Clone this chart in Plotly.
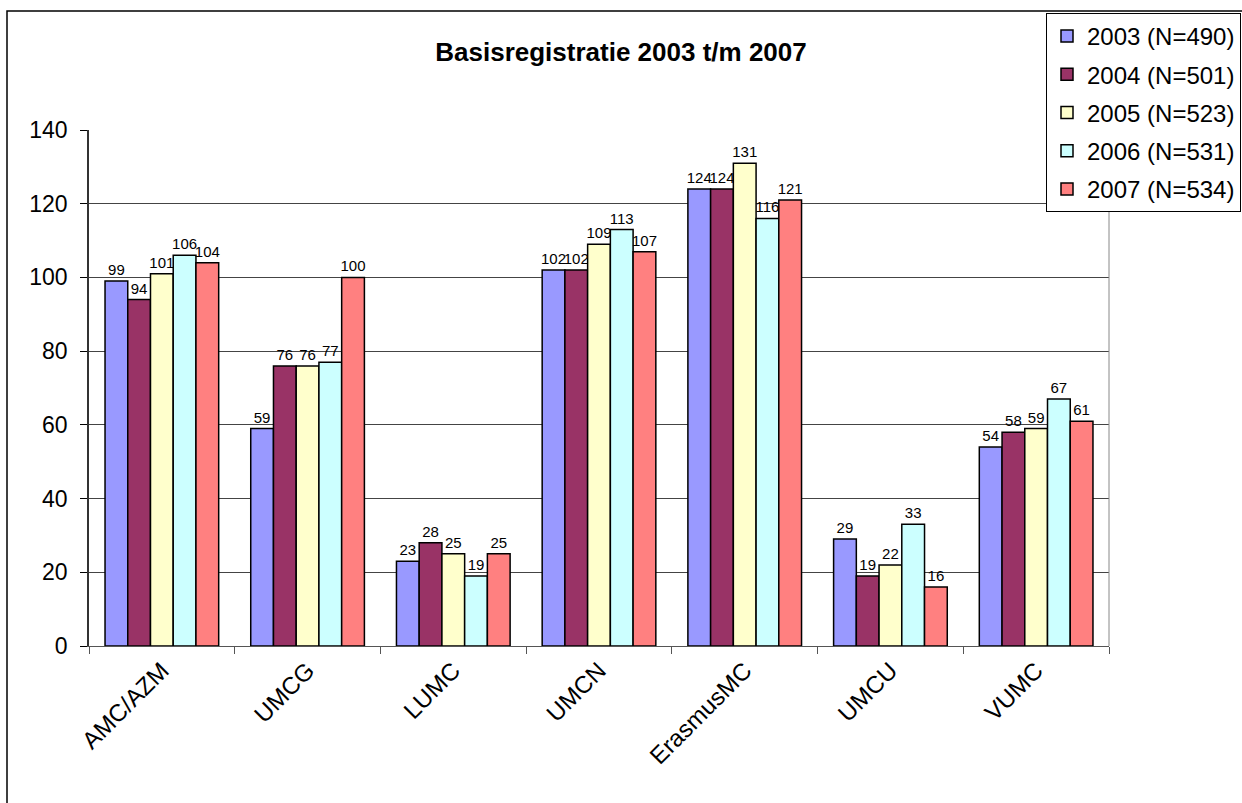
import plotly.graph_objects as go

categories = ["AMC/AZM", "UMCG", "LUMC", "UMCN", "ErasmusMC", "UMCU", "VUMC"]
series_names = ["2003 (N=490)", "2004 (N=501)", "2005 (N=523)", "2006 (N=531)", "2007 (N=534)"]
v2003 = [99, 59, 23, 102, 124, 29, 54]
v2004 = [94, 76, 28, 102, 124, 19, 58]
v2005 = [101, 76, 25, 109, 131, 22, 59]
v2006 = [106, 77, 19, 113, 116, 33, 67]
v2007 = [104, 100, 25, 107, 121, 16, 61]
colors = ["#9999FF", "#993366", "#FFFFCC", "#CCFFFF", "#FF8080"]
y_ticks = [0, 20, 40, 60, 80, 100, 120, 140]

FONT = "Liberation Sans, Arial, sans-serif"
W, H = 1242, 803
L, R, T, B = 89, 1, 13, 157
pw = W - L - R          # paper width
ph = H - T - B          # paper height
PLOT_RIGHT, PLOT_TOP = 1109, 130

def px_x(x):
    return (x - L) / pw

def px_y(y):
    return (H - B - y) / ph

fig = go.Figure()
for i, (name, vals) in enumerate(zip(series_names, [v2003, v2004, v2005, v2006, v2007])):
    fig.add_trace(go.Bar(
        x=categories, y=vals, name=name,
        marker=dict(color=colors[i], line=dict(color="black", width=1.5)),
        text=vals, textposition="outside", constraintext="none",
        textfont=dict(family=FONT, size=15, color="black"),
        cliponaxis=False, legendgroup=name,
    ))

fig.update_layout(
    width=W, height=H,
    margin=dict(l=L, r=R, t=T, b=B, pad=0),
    paper_bgcolor="white", plot_bgcolor="white",
    barmode="group", bargap=0.22, bargroupgap=0,
    font=dict(family=FONT, color="black"),
    title=dict(text="<b>Basisregistratie 2003 t/m 2007</b>", x=0.5, xanchor="center",
               y=1 - 52 / H, yanchor="middle", xref="container", yref="container",
               font=dict(family=FONT, size=26, color="black")),
    legend=dict(x=1, y=1, xanchor="right", yanchor="top",
                bgcolor="white", bordercolor="black", borderwidth=1,
                font=dict(family=FONT, size=24, color="black"),
                traceorder="grouped", tracegroupgap=4, itemwidth=30),
    showlegend=True,
)
fig.update_xaxes(
    domain=[0, px_x(PLOT_RIGHT)],
    type="category", tickson="boundaries", ticks="outside", ticklen=7,
    tickcolor="#555555", tickwidth=1, showline=True, linecolor="#555555", linewidth=1,
    tickangle=-45, tickfont=dict(family=FONT, size=24, color="black"), showgrid=False,
)
fig.update_yaxes(
    domain=[0, px_y(PLOT_TOP)],
    range=[0, 140], tickvals=y_ticks, ticks="outside", ticklen=7, tickcolor="black",
    showline=True, linecolor="#333333", linewidth=1.5,
    showgrid=True, gridcolor="#444444", gridwidth=1, zeroline=False,
    tickfont=dict(family=FONT, size=23, color="black"), ticklabelstandoff=8,
)
# plot-area right edge and outer chart frame
fig.add_shape(type="line", xref="x domain", yref="y domain", x0=1, x1=1, y0=0, y1=1,
              line=dict(color="#888888", width=1))
fig.add_shape(type="rect", xref="paper", yref="paper",
              x0=px_x(7), x1=px_x(1260), y0=px_y(820), y1=px_y(11),
              line=dict(color="black", width=1.5), layer="below")

fig.write_html("out.html")
